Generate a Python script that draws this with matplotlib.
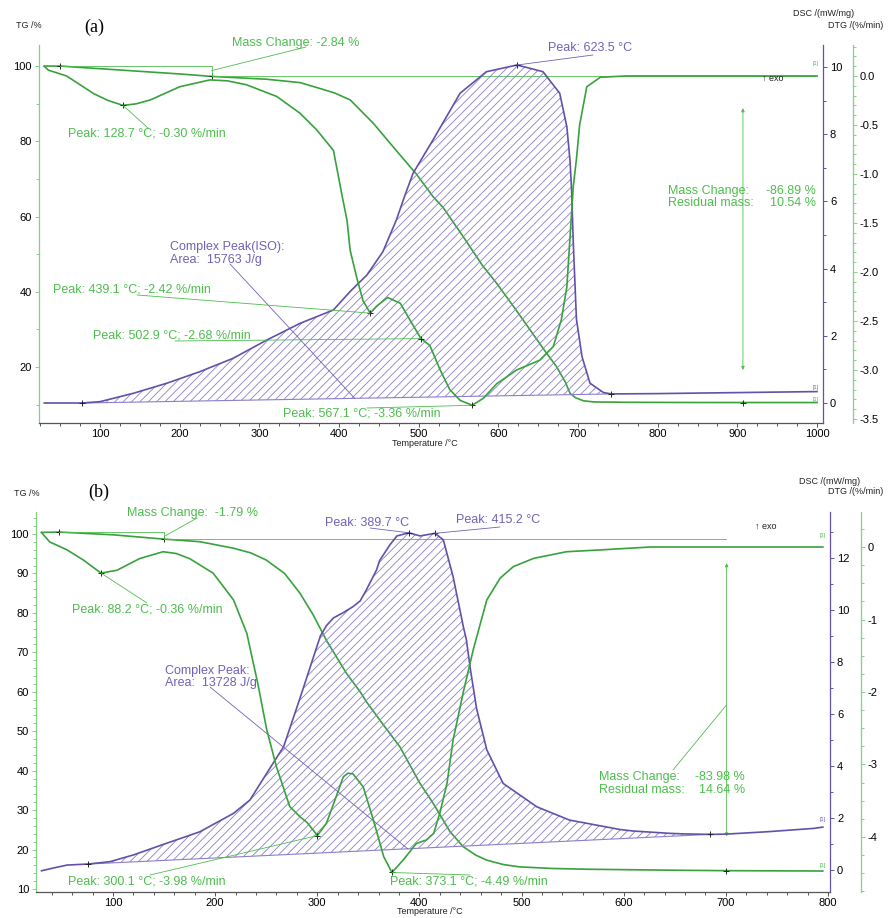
import numpy as np
import matplotlib
matplotlib.use('Agg')
import matplotlib.pyplot as plt
from matplotlib.ticker import MultipleLocator, FormatStrFormatter

plt.rcParams['font.family'] = ['Liberation Sans', 'DejaVu Sans']
plt.rcParams['hatch.linewidth'] = 0.6

W, H = 889, 918

GREEN = '#37a23d'
GREEN_TXT = '#4dbd4d'
GREEN_AX = '#86cf86'
PURPLE = '#6450a8'
PURPLE_TXT = '#7261b6'
HATCH = '#8c7fc9'
GREY = '#555555'

# ── (a) data ──────────────────────────────────────────────────────────────
tg_a_t = [30, 50, 100, 150, 200, 240, 309, 351, 372, 395, 414, 443, 470, 497, 518,
          531, 556, 580, 598, 620, 640, 660, 673, 684, 690, 697, 707, 720, 765, 850, 1000]
tg_a = [100.0, 100.0, 99.3, 98.6, 97.9, 97.25, 96.5, 95.6, 94.3, 92.8, 91.0, 84.8, 78.0,
        71.3, 65.3, 62.3, 54.6, 47.0, 42.2, 35.8, 29.8, 23.8, 20.1, 16.0, 13.0, 11.8,
        11.0, 10.7, 10.6, 10.55, 10.54]

dtg_a_t = [30, 35, 58, 92, 110, 128.7, 145, 163, 200, 238, 260, 284, 322, 351, 372,
           393, 405, 410, 414, 422, 430, 439.1, 447, 461, 477, 489, 502.9, 514, 527, 539,
           552, 567.1, 581, 598, 623, 652, 669, 679, 686, 690, 694, 698, 702, 711, 728,
           760, 850, 1000]
dtg_a = [0.10, 0.06, 0.0, -0.18, -0.25, -0.30, -0.285, -0.245, -0.11, -0.04, -0.05, -0.09,
         -0.21, -0.38, -0.55, -0.76, -1.27, -1.47, -1.78, -2.05, -2.29, -2.42, -2.35, -2.26,
         -2.32, -2.49, -2.68, -2.75, -3.0, -3.2, -3.31, -3.36, -3.29, -3.14, -3.0, -2.90,
         -2.76, -2.49, -2.15, -1.64, -1.13, -0.85, -0.50, -0.11, -0.013, 0.0, 0.0, 0.0]

dsc_a_t = [30, 78, 100, 142, 184, 225, 267, 309, 351, 393, 414, 435, 455, 472, 483, 493,
           518, 552, 585, 623.5, 656, 677, 686, 690, 692, 694, 698, 705, 715, 732, 742,
           800, 900, 1000]
dsc_a = [0.0, 0.0, 0.04, 0.29, 0.59, 0.93, 1.33, 1.87, 2.37, 2.77, 3.32, 3.81, 4.5, 5.45,
         6.2, 6.84, 7.83, 9.22, 9.86, 10.06, 9.86, 9.22, 8.22, 7.2, 6.3, 4.8, 2.5, 1.38,
         0.59, 0.31, 0.27, 0.28, 0.31, 0.34]
base_a_t = [78, 742]
base_a = [0.0, 0.27]

tg_a_mark_t = [50, 240, 907]
tg_a_mark = [100.0, 97.25, 10.54]
dtg_a_mark_t = [128.7, 439.1, 502.9, 567.1]
dtg_a_mark = [-0.30, -2.42, -2.68, -3.36]
dsc_a_mark_t = [78, 623.5, 742]
dsc_a_mark = [0.0, 10.06, 0.27]

# ── (b) data ──────────────────────────────────────────────────────────────
tg_b_t = [30, 47, 100, 150, 185, 218, 235, 250, 268, 283, 296, 309, 329, 342, 348, 365,
          381, 400, 414, 430, 443, 455, 466, 482, 498, 530, 564, 650, 700, 795]
tg_b = [100.4, 100.5, 99.8, 98.7, 98.05, 96.4, 95.2, 93.4, 90.0, 85.0, 79.5, 73.0, 64.5,
        60.0, 57.5, 51.5, 46.0, 37.0, 31.5, 24.5, 20.7, 18.6, 17.3, 16.2, 15.6, 15.2, 15.0,
        14.75, 14.64, 14.55]

dtg_b_t = [30, 38, 55, 71, 88.2, 104, 126, 149, 162, 175, 198, 218, 231, 242, 250.5, 260,
           273, 283, 290, 300.1, 309, 316, 325.5, 330, 335, 345, 355, 365, 373.1, 384, 397,
           407, 414, 420, 427, 433, 443, 453, 466, 479, 492, 512, 544, 577, 626, 700, 795]
dtg_b = [0.20, 0.07, -0.04, -0.18, -0.36, -0.32, -0.16, -0.065, -0.09, -0.16, -0.36, -0.73,
         -1.19, -1.9, -2.52, -3.03, -3.58, -3.72, -3.80, -3.98, -3.81, -3.54, -3.17, -3.12,
         -3.13, -3.31, -3.77, -4.27, -4.49, -4.32, -4.09, -4.04, -3.95, -3.67, -3.26, -2.66,
         -2.0, -1.4, -0.73, -0.43, -0.27, -0.156, -0.065, -0.04, 0.0, 0.0, 0.0]

dsc_b_t = [30, 42, 55, 75.8, 97, 120, 152.6, 185, 218, 234, 250.5, 267, 283, 293, 303, 309,
           316, 325.5, 335, 342, 348, 358, 361, 371, 378, 389.7, 400.6, 415.2, 423.4, 433,
           443, 446, 450, 456, 466, 482, 515, 547, 577, 596, 609, 645, 658, 684.5, 700, 740,
           786, 795]
dsc_b = [-0.03, 0.08, 0.19, 0.23, 0.32, 0.58, 1.03, 1.47, 2.18, 2.69, 3.72, 4.74, 6.6, 7.8,
         9.0, 9.4, 9.7, 9.9, 10.13, 10.35, 10.77, 11.54, 11.9, 12.5, 12.85, 12.97, 12.85,
         12.95, 12.7, 11.28, 9.36, 8.85, 7.7, 6.2, 4.62, 3.33, 2.43, 1.92, 1.7, 1.56, 1.5,
         1.41, 1.39, 1.37, 1.38, 1.47, 1.6, 1.65]
base_b_t = [75.8, 684.5]
base_b = [0.23, 1.37]

tg_b_mark_t = [47, 150, 700]
tg_b_mark = [100.5, 98.7, 14.64]
dtg_b_mark_t = [88.2, 300.1, 373.1]
dtg_b_mark = [-0.36, -3.98, -4.49]
dsc_b_mark_t = [75.8, 389.7, 415.2, 684.5]
dsc_b_mark = [0.23, 12.97, 12.95, 1.37]


fig = plt.figure(figsize=(W / 100, H / 100), dpi=100)


def fp(px, py):
    return (px, H - py)


def ftext(px, py, s, color, size=9, ha='left', **kw):
    fig.text(px / W, 1 - py / H, s, color=color, fontsize=size, ha=ha, va='center', **kw)


def leader(ax, xy, start, color):
    ax.annotate('', xy=xy, xycoords='data', xytext=fp(*start),
                textcoords='figure pixels', annotation_clip=False,
                arrowprops=dict(arrowstyle='-', color=color, lw=0.6,
                                shrinkA=0, shrinkB=0))


def make_panel(px_box, xlim, tg_lim, dsc_lim, dtg_lim, xminor, tgstep, tgminor,
               dscminor, dtgstep, dtgminor, dtgfmt, dtg_offset_px):
    l, t, r, b = px_box
    ax = fig.add_axes([l / W, 1 - b / H, (r - l) / W, (b - t) / H])
    ax2 = ax.twinx()
    ax3 = ax.twinx()
    # outward offset is in points, the reference gap is measured in pixels
    ax3.spines['right'].set_position(('outward', dtg_offset_px * 0.72))

    ax.set_xlim(*xlim)
    ax.set_ylim(*tg_lim)
    ax2.set_ylim(*dsc_lim)
    ax3.set_ylim(*dtg_lim)

    for s in ('top', 'right'):
        ax.spines[s].set_visible(False)
    for a in (ax2, ax3):
        for s in ('top', 'left', 'bottom'):
            a.spines[s].set_visible(False)
    ax.spines['left'].set_color(GREEN_AX)
    ax.spines['bottom'].set_color(GREY)
    ax2.spines['right'].set_color(PURPLE)
    ax3.spines['right'].set_color(GREEN_AX)
    for a, s in ((ax, 'left'), (ax, 'bottom'), (ax2, 'right'), (ax3, 'right')):
        a.spines[s].set_linewidth(0.9)

    ax.xaxis.set_major_locator(MultipleLocator(100))
    ax.xaxis.set_minor_locator(MultipleLocator(xminor))
    ax.yaxis.set_major_locator(MultipleLocator(tgstep))
    ax.yaxis.set_minor_locator(MultipleLocator(tgminor))
    ax2.yaxis.set_major_locator(MultipleLocator(2))
    ax2.yaxis.set_minor_locator(MultipleLocator(dscminor))
    ax3.yaxis.set_major_locator(MultipleLocator(dtgstep))
    ax3.yaxis.set_minor_locator(MultipleLocator(dtgminor))
    ax3.yaxis.set_major_formatter(FormatStrFormatter(dtgfmt))

    ax.tick_params(axis='x', which='both', colors=GREY, labelcolor='black',
                   labelsize=8, direction='out', length=3, width=0.7, pad=1.5)
    ax.tick_params(axis='x', which='minor', length=2)
    ax.tick_params(axis='y', which='both', colors=GREEN_AX, labelcolor='black',
                   labelsize=8, direction='out', length=3, width=0.7, pad=2)
    ax.tick_params(axis='y', which='minor', length=2)
    ax2.tick_params(axis='y', which='both', colors=PURPLE, labelcolor='black',
                    labelsize=8, direction='out', length=3, width=0.7, pad=2)
    ax2.tick_params(axis='y', which='minor', length=2)
    ax3.tick_params(axis='y', which='both', colors=GREEN_AX, labelcolor='black',
                    labelsize=8, direction='out', length=3, width=0.7, pad=2)
    ax3.tick_params(axis='y', which='minor', length=2)
    return ax, ax2, ax3


def draw_curves(ax, ax2, ax3, tg_t, tg, dtg_t, dtg, dsc_t, dsc, bt, bv,
                tgm_t, tgm, dtgm_t, dtgm, dscm_t, dscm):
    # hatched DSC peak area between the curve and the linear baseline
    dsc_t = np.asarray(dsc_t, float)
    dsc = np.asarray(dsc, float)
    sel = (dsc_t >= bt[0]) & (dsc_t <= bt[1])
    base_line = np.interp(dsc_t[sel], bt, bv)
    ax2.fill_between(dsc_t[sel], dsc[sel], base_line, facecolor='none',
                     edgecolor=HATCH, hatch='////', linewidth=0)
    ax2.plot(bt, bv, color=HATCH, lw=0.8)
    ax2.plot(dsc_t, dsc, color=PURPLE, lw=1.2)
    ax3.plot(dtg_t, dtg, color=GREEN, lw=1.2)
    ax.plot(tg_t, tg, color=GREEN, lw=1.2)
    kw = dict(ls='none', marker='+', color='#222222', ms=4, mew=0.7)
    ax.plot(tgm_t, tgm, **kw)
    ax3.plot(dtgm_t, dtgm, **kw)
    ax2.plot(dscm_t, dscm, **kw)


# ── panel (a) ─────────────────────────────────────────────────────────────
a1, a2, a3 = make_panel((39, 45, 823, 423), (23.4, 1007.5), (5.1, 105.6),
                        (-0.595, 10.655), (-3.541, 0.316), 25, 20, 10, 1, 0.5, 0.1,
                        '%.1f', 30)
draw_curves(a1, a2, a3, tg_a_t, tg_a, dtg_a_t, dtg_a, dsc_a_t, dsc_a, base_a_t, base_a,
            tg_a_mark_t, tg_a_mark, dtg_a_mark_t, dtg_a_mark, dsc_a_mark_t, dsc_a_mark)

# mass change bracket and reference line
a1.plot([tg_a_mark_t[0], tg_a_mark_t[1], tg_a_mark_t[1]],
        [tg_a_mark[0], tg_a_mark[0], tg_a_mark[1]], color=GREEN_TXT, lw=0.6)
a1.plot([tg_a_mark_t[1], 1000], [tg_a_mark[1], tg_a_mark[1]], color=GREEN_TXT, lw=0.6)
a1.annotate('', xy=(907, 88.8), xytext=(907, 19.2),
            arrowprops=dict(arrowstyle='<|-|>', color=GREEN_TXT, lw=0.6,
                            mutation_scale=5, shrinkA=0, shrinkB=0))

ftext(94, 27, '(a)', 'black', size=13, ha='center', family='Liberation Serif')
ftext(29, 25, 'TG /%', '#222222', size=6.5, ha='center')
ftext(824, 14, 'DSC /(mW/mg)', '#222222', size=6.5, ha='center')
ftext(856, 26, 'DTG /(%/min)', '#222222', size=6.5, ha='center')
ftext(425, 443, 'Temperature /°C', '#222222', size=6.5, ha='center')
ftext(762, 78, '↑ exo', '#222222', size=6.5)

ftext(232, 43, 'Mass Change: -2.84 %', GREEN_TXT)
leader(a1, (240, 98.8), (306, 47), GREEN_TXT)
ftext(68, 133, 'Peak: 128.7 °C; -0.30 %/min', GREEN_TXT)
leader(a3, (dtg_a_mark_t[0], dtg_a_mark[0]), (148, 128), GREEN_TXT)
ftext(548, 48, 'Peak: 623.5 °C', PURPLE_TXT)
leader(a2, (dsc_a_mark_t[1], dsc_a_mark[1]), (593, 55), PURPLE_TXT)
ftext(170, 247, 'Complex Peak(ISO):', PURPLE_TXT)
ftext(170, 260, 'Area:  15763 J/g', PURPLE_TXT)
leader(a2, (420, 0.13), (230, 264), PURPLE_TXT)
ftext(53, 289, 'Peak: 439.1 °C; -2.42 %/min', GREEN_TXT)
leader(a3, (dtg_a_mark_t[1], dtg_a_mark[1]), (137, 295), GREEN_TXT)
ftext(93, 335, 'Peak: 502.9 °C; -2.68 %/min', GREEN_TXT)
leader(a3, (dtg_a_mark_t[2], dtg_a_mark[2]), (175, 341), GREEN_TXT)
ftext(283, 414, 'Peak: 567.1 °C; -3.36 %/min', GREEN_TXT)
leader(a3, (dtg_a_mark_t[3], dtg_a_mark[3]), (367, 408), GREEN_TXT)
ftext(668, 191, 'Mass Change:', GREEN_TXT)
ftext(816, 191, '-86.89 %', GREEN_TXT, ha='right')
ftext(668, 203, 'Residual mass:', GREEN_TXT)
ftext(816, 203, '10.54 %', GREEN_TXT, ha='right')
ftext(813, 64, '[1]', GREEN_TXT, size=4)
ftext(813, 387, '[1]', PURPLE_TXT, size=4)
ftext(813, 399, '[1]', GREEN_TXT, size=4)

# ── panel (b) ─────────────────────────────────────────────────────────────
b1, b2, b3 = make_panel((36, 512, 830, 892), (24.6, 802), (9.23, 105.58),
                        (-0.846, 13.77), (-4.759, 0.483), 20, 10, 2, 1, 1, 0.25, '%d', 31)
draw_curves(b1, b2, b3, tg_b_t, tg_b, dtg_b_t, dtg_b, dsc_b_t, dsc_b, base_b_t, base_b,
            tg_b_mark_t, tg_b_mark, dtg_b_mark_t, dtg_b_mark, dsc_b_mark_t, dsc_b_mark)

b1.plot([tg_b_mark_t[0], tg_b_mark_t[1], tg_b_mark_t[1]],
        [tg_b_mark[0], tg_b_mark[0], tg_b_mark[1]], color=GREEN_TXT, lw=0.6)
b1.plot([tg_b_mark_t[1], 700], [tg_b_mark[1], tg_b_mark[1]], color=GREEN_TXT, lw=0.6)
b1.annotate('', xy=(700.8, 92.6), xytext=(700.8, 23.3),
            arrowprops=dict(arrowstyle='<|-|>', color=GREEN_TXT, lw=0.6,
                            mutation_scale=5, shrinkA=0, shrinkB=0))

ftext(99, 492, '(b)', 'black', size=13, ha='center', family='Liberation Serif')
ftext(27, 493, 'TG /%', '#222222', size=6.5, ha='center')
ftext(830, 481, 'DSC /(mW/mg)', '#222222', size=6.5, ha='center')
ftext(856, 492, 'DTG /(%/min)', '#222222', size=6.5, ha='center')
ftext(430, 912, 'Temperature /°C', '#222222', size=6.5, ha='center')
ftext(755, 526, '↑ exo', '#222222', size=6.5)

ftext(127, 513, 'Mass Change:  -1.79 %', GREEN_TXT)
leader(b1, (151, 99.5), (197, 518), GREEN_TXT)
ftext(72, 609, 'Peak: 88.2 °C; -0.36 %/min', GREEN_TXT)
leader(b3, (dtg_b_mark_t[0], dtg_b_mark[0]), (147, 603), GREEN_TXT)
ftext(325, 523, 'Peak: 389.7 °C', PURPLE_TXT)
leader(b2, (dsc_b_mark_t[1], dsc_b_mark[1]), (370, 528), PURPLE_TXT)
ftext(456, 520, 'Peak: 415.2 °C', PURPLE_TXT)
leader(b2, (dsc_b_mark_t[2], dsc_b_mark[2]), (500, 527), PURPLE_TXT)
ftext(165, 671, 'Complex Peak:', PURPLE_TXT)
ftext(165, 683, 'Area:  13728 J/g', PURPLE_TXT)
leader(b2, (389, 0.8), (210, 687), PURPLE_TXT)
ftext(68, 882, 'Peak: 300.1 °C; -3.98 %/min', GREEN_TXT)
leader(b3, (dtg_b_mark_t[1], dtg_b_mark[1]), (150, 875), GREEN_TXT)
ftext(390, 882, 'Peak: 373.1 °C; -4.49 %/min', GREEN_TXT)
leader(b3, (dtg_b_mark_t[2], dtg_b_mark[2]), (470, 875), GREEN_TXT)
ftext(599, 777, 'Mass Change:', GREEN_TXT)
ftext(745, 777, '-83.98 %', GREEN_TXT, ha='right')
ftext(599, 790, 'Residual mass:', GREEN_TXT)
ftext(745, 790, '14.64 %', GREEN_TXT, ha='right')
leader(b1, (700.8, 56.7), (673, 770), GREEN_TXT)
ftext(820, 536, '[1]', GREEN_TXT, size=4)
ftext(820, 820, '[1]', PURPLE_TXT, size=4)
ftext(820, 866, '[1]', GREEN_TXT, size=4)

fig.savefig('out.png', dpi=100)
